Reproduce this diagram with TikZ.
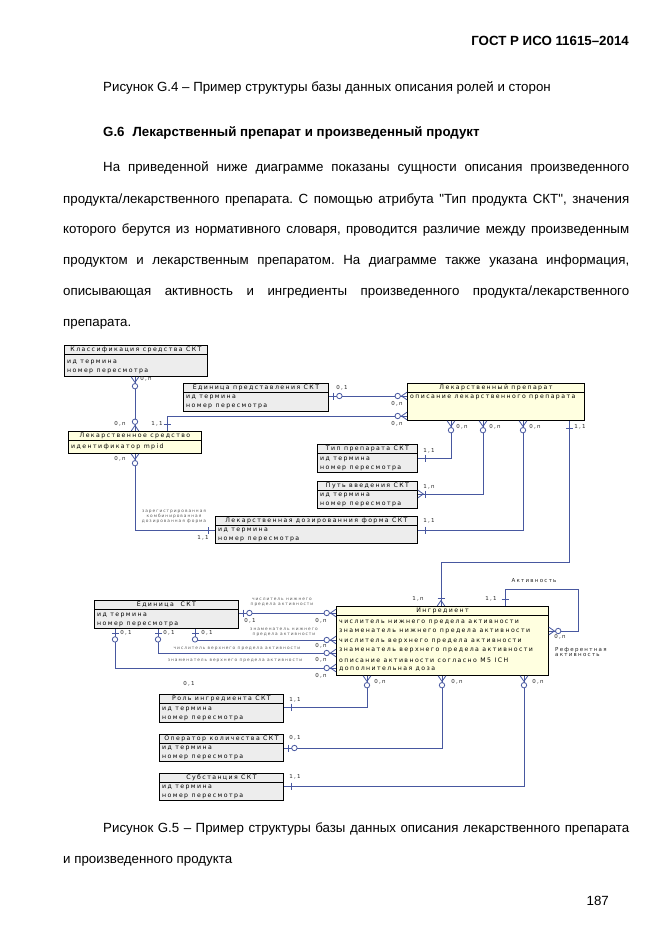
\documentclass[tikz,border=0pt]{standalone}
\usepackage{fontspec}
\setmainfont{Liberation Sans}
\newfontfamily\dgf{DejaVu Sans}[LetterSpace=23]
\usetikzlibrary{calc}
\frenchspacing
\definecolor{conncol}{RGB}{72,88,160}
\definecolor{entgray}{RGB}{237,237,237}
\definecolor{entyel}{RGB}{255,255,224}
\definecolor{notecol}{RGB}{90,90,90}
\tikzset{
 conn/.style={draw=conncol, line width=0.8pt},
 entbox/.style={draw=black, line width=0.9pt, rectangle, inner sep=0pt},
 enthead/.style={font=\dgf\fontsize{6.2}{7}\selectfont, inner sep=0pt},
 entrow/.style={font=\dgf\fontsize{6.2}{7}\selectfont, inner sep=0pt, anchor=west},
 card/.style={font=\dgf\fontsize{5.5}{6}\selectfont, inner sep=0pt, text=black!85},
 note/.style={font=\dgf\fontsize{4.3}{5}\selectfont, inner sep=0pt, text=notecol, align=center},
 body/.style={font=\fontsize{13.3}{15}\selectfont, inner sep=0pt, anchor=base west},
 bodyb/.style={font=\bfseries\fontsize{13.3}{15}\selectfont, inner sep=0pt, anchor=base west},
}
\newcommand\entity[7]{%
  \node[entbox, fill=#6, minimum width=#4pt, minimum height=#5pt, anchor=north west] (#1) at (#2,#3) {};
  \draw[line width=0.9pt] ($(#1.north west)+(0,9)$) -- ($(#1.north east)+(0,9)$);
  \node[enthead] (#1-h) at ($(#1.north)+(0,4.9)$) {#7};
}
\newcommand\erow[3]{\node[entrow] at ($(#1.north west)+(3,#2)$) {#3};}
% symbols: origin at entity edge, outward along local +x
\newcommand\symCO[2]{\begin{scope}[shift={(#1)},rotate=#2]
  \draw[conn] (0,-3.8) -- (5.5,0) -- (0,3.8);
  \draw[conn, fill=white] (9.3,0) circle (2.7);
\end{scope}}
\newcommand\symCI[2]{\begin{scope}[shift={(#1)},rotate=#2]
  \draw[conn] (0,-3.8) -- (5.5,0) -- (0,3.8);
  \draw[conn] (7.5,-3.5) -- (7.5,3.5);
\end{scope}}
\newcommand\symOO[2]{\begin{scope}[shift={(#1)},rotate=#2]
  \draw[conn] (4,-3.5) -- (4,3.5);
  \draw[conn, fill=white] (10.5,0) circle (2.7);
\end{scope}}
\newcommand\symT[2]{\begin{scope}[shift={(#1)},rotate=#2]
  \draw[conn] (7,-3.5) -- (7,3.5);
\end{scope}}
\begin{document}
\begin{tikzpicture}[x=1pt,y=-1pt]
\useasboundingbox (0,0) rectangle (661,935);
\fill[white] (0,0) rectangle (661,935);
% ---------- page text ----------
\node[bodyb, anchor=base east] (hdr) at (629,45) {ГОСТ Р ИСО 11615–2014};
\node[body] (cap4) at (103,91) {Рисунок G.4 – Пример структуры базы данных описания ролей и сторон};
\node[bodyb] (sec) at (103,136) {G.6\hspace{8pt}Лекарственный препарат и произведенный продукт};
\node[body] (p1) at (103,171) {\makebox[526pt][s]{На приведенной ниже диаграмме показаны сущности описания произведенного}};
\node[body] (p2) at (63,203) {\makebox[566pt][s]{продукта/лекарственного препарата. С помощью атрибута \textquotedbl Тип продукта СКТ\textquotedbl, значения}};
\node[body] (p3) at (63,233) {\makebox[566pt][s]{которого берутся из нормативного словаря, проводится различие между произведенным}};
\node[body] (p4) at (63,264) {\makebox[566pt][s]{продуктом и лекарственным препаратом. На диаграмме также указана информация,}};
\node[body] (p5) at (63,295) {\makebox[566pt][s]{описывающая активность и ингредиенты произведенного продукта/лекарственного}};
\node[body] (p6) at (63,326) {препарата.};
\node[body] (cap5) at (103,832) {\makebox[526pt][s]{Рисунок G.5 – Пример структуры базы данных описания лекарственного препарата}};
\node[body] (cap5b) at (63,863) {и произведенного продукта};
\node[body, anchor=base east] (pg) at (609,905) {187};
% ---------- entities ----------
\entity{klass}{64}{345}{143}{31}{entgray}{Классификация средства СКТ}
\erow{klass}{17}{ид термина}\erow{klass}{26.5}{номер пересмотра}
\entity{edpr}{183}{383}{145}{28}{entgray}{Единица представления СКТ}
\erow{edpr}{14}{ид термина}\erow{edpr}{23.5}{номер пересмотра}
\entity{lp}{407}{383}{177}{37}{entyel}{Лекарственный препарат}
\erow{lp}{14}{описание лекарственного препарата}
\entity{lsr}{68}{431}{133}{22}{entyel}{Лекарственное средство}
\erow{lsr}{16}{идентификатор mpid}
\entity{tip}{317}{444}{100}{28}{entgray}{Тип препарата СКТ}
\erow{tip}{15}{ид термина}\erow{tip}{24}{номер пересмотра}
\entity{put}{317}{481}{100}{27}{entgray}{Путь введения СКТ}
\erow{put}{14.5}{ид термина}\erow{put}{23.5}{номер пересмотра}
\entity{ldf}{215}{516}{202}{27}{entgray}{Лекарственная дозированния форма СКТ}
\erow{ldf}{14.5}{ид термина}\erow{ldf}{23.5}{номер пересмотра}
\entity{edskt}{94}{600}{144}{28}{entgray}{Единица\ \ СКТ}
\erow{edskt}{15}{ид термина}\erow{edskt}{24}{номер пересмотра}
\entity{ingr}{336}{606}{212}{69}{entyel}{Ингредиент}
\erow{ingr}{16}{числитель нижнего предела активности}
\erow{ingr}{25.5}{знаменатель нижнего предела активности}
\erow{ingr}{35}{числитель верхнего предела активности}
\erow{ingr}{44.5}{знаменатель верхнего предела активности}
\erow{ingr}{54}{описание активности согласно M5 ICH}
\erow{ingr}{63.5}{дополнительная доза}
\entity{rol}{159}{694}{124}{28}{entgray}{Роль ингредиента СКТ}
\erow{rol}{15}{ид термина}\erow{rol}{24}{номер пересмотра}
\entity{oper}{159}{734}{124}{27}{entgray}{Оператор количества СКТ}
\erow{oper}{14.5}{ид термина}\erow{oper}{23.5}{номер пересмотра}
\entity{subs}{159}{773}{124}{27}{entgray}{Субстанция СКТ}
\erow{subs}{14.5}{ид термина}\erow{subs}{23.5}{номер пересмотра}
% ---------- connectors ----------
\draw[conn] (klass.south -| 135,0) -- (lsr.north -| 135,0);
\symCO{klass.south -| 135,0}{-90}\symCO{lsr.north -| 135,0}{90}
\draw[conn] (lsr.north -| 167,0) |- (lp.west |- 0,416);
\symT{lsr.north -| 167,0}{90}\symCO{lp.west |- 0,416}{180}
\draw[conn] (edpr.east |- 0,396) -- (lp.west |- 0,396);
\symOO{edpr.east |- 0,396}{0}\symCO{lp.west |- 0,396}{180}
\draw[conn] (lp.south -| 451,0) |- (tip.east |- 0,458);
\symCO{lp.south -| 451,0}{-90}\symT{tip.east |- 0,458}{0}
\draw[conn] (lp.south -| 483,0) |- (put.east |- 0,494);
\symCO{lp.south -| 483,0}{-90}\symCI{put.east |- 0,494}{0}
\draw[conn] (lp.south -| 523,0) |- (ldf.east |- 0,530);
\symCO{lp.south -| 523,0}{-90}\symT{ldf.east |- 0,530}{0}
\draw[conn] (lp.south -| 569,0) -- (569,562) -| (ingr.north -| 441,0);
\symT{lp.south -| 569,0}{-90}\symCI{ingr.north -| 441,0}{90}
\draw[conn] (lsr.south -| 135,0) |- (ldf.west |- 0,530);
\symCO{lsr.south -| 135,0}{-90}\symT{ldf.west |- 0,530}{180}
\draw[conn] (ingr.north -| 505,0) -- (505,589) -| (578,631) -- (ingr.east |- 0,631);
\symT{ingr.north -| 505,0}{90}\symCO{ingr.east |- 0,631}{0}
\draw[conn] (edskt.east |- 0,613) -- (ingr.west |- 0,613);
\symOO{edskt.east |- 0,613}{0}\symCO{ingr.west |- 0,613}{180}
\draw[conn] (edskt.south -| 195,0) |- (ingr.west |- 0,640);
\symOO{edskt.south -| 195,0}{-90}\symCO{ingr.west |- 0,640}{180}
\draw[conn] (edskt.south -| 158,0) |- (ingr.west |- 0,653);
\symOO{edskt.south -| 158,0}{-90}\symCO{ingr.west |- 0,653}{180}
\draw[conn] (edskt.south -| 115,0) |- (ingr.west |- 0,668);
\symOO{edskt.south -| 115,0}{-90}\symCO{ingr.west |- 0,668}{180}
\draw[conn] (ingr.south -| 367,0) |- (rol.east |- 0,707);
\symCO{ingr.south -| 367,0}{-90}\symT{rol.east |- 0,707}{0}
\draw[conn] (ingr.south -| 442,0) |- (oper.east |- 0,748);
\symCO{ingr.south -| 442,0}{-90}\symOO{oper.east |- 0,748}{0}
\draw[conn] (ingr.south -| 524,0) |- (subs.east |- 0,786);
\symCO{ingr.south -| 524,0}{-90}\symT{subs.east |- 0,786}{0}
% ---------- cardinality labels ----------
\node[card] (c1) at (146,379) {0,n};
\node[card] (c2) at (120,424) {0,n};
\node[card] (c3) at (157,424) {1,1};
\node[card] (c4) at (120,459) {0,n};
\node[card] (c5) at (342,388) {0,1};
\node[card] (c6) at (397,404) {0,n};
\node[card] (c7) at (397,424) {0,n};
\node[card] (c8) at (462,427) {0,n};
\node[card] (c9) at (495,427) {0,n};
\node[card] (c10) at (535,427) {0,n};
\node[card] (c11) at (580,427) {1,1};
\node[card] (c12) at (429,451) {1,1};
\node[card] (c13) at (429,487) {1,n};
\node[card] (c14) at (429,521) {1,1};
\node[card] (c15) at (203,538) {1,1};
\node[card] (c16) at (418,599) {1,n};
\node[card] (c17) at (491,599) {1,1};
\node[card] (c18) at (250,621) {0,1};
\node[card] (c19) at (321,621) {0,n};
\node[card] (c20) at (126,633) {0,1};
\node[card] (c21) at (169,633) {0,1};
\node[card] (c22) at (207,633) {0,1};
\node[card] (c23) at (321,646) {0,n};
\node[card] (c24) at (321,660) {0,n};
\node[card] (c25) at (321,676) {0,n};
\node[card] (c26) at (560,637) {0,n};
\node[card] (c27) at (189,684) {0,1};
\node[card] (c28) at (380,682) {0,n};
\node[card] (c29) at (457,682) {0,n};
\node[card] (c30) at (538,682) {0,n};
\node[card] (c31) at (295,700) {1,1};
\node[card] (c32) at (295,738) {0,1};
\node[card] (c33) at (295,777) {1,1};
\node[card] (act) at (534,581) {Активность};
\node[card, align=left, anchor=west] (ref) at (555,652) {Референтная\\[-0.5pt]активность};
% ---------- relationship notes ----------
\node[note] (n1) at (174,517) {зарегистрированная\\комбинированная\\дозированная форма};
\node[note] (n2) at (282,602.5) {числитель нижнего\\предела активности};
\node[note] (n3) at (284,632.5) {знаменатель нижнего\\предела активности};
\node[note] (n4) at (237,649) {числитель верхнего предела активности};
\node[note] (n5) at (235,661) {знаменатель верхнего предела активности};
\end{tikzpicture}
\end{document}
